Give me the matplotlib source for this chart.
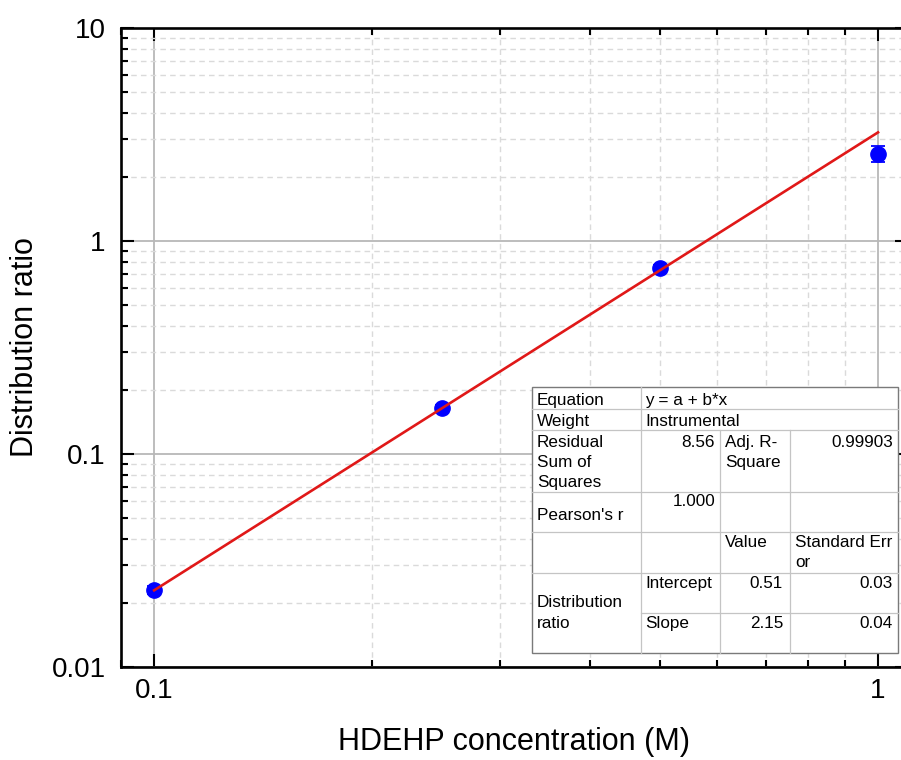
import matplotlib
matplotlib.use("Agg")
import matplotlib.pyplot as plt
import numpy as np
from matplotlib.patches import Rectangle
from matplotlib.lines import Line2D
from matplotlib.ticker import FixedLocator, FixedFormatter, LogLocator, NullFormatter

plt.rcParams['font.family'] = ['Liberation Sans', 'DejaVu Sans']

# Measured distribution ratios vs. HDEHP concentration
conc = [0.1, 0.25, 0.5, 1.0]
dist_ratio = [0.023, 0.164, 0.75, 2.56]
dist_err = [0.001, 0.006, 0.02, 0.22]

# Linear fit on log10 scale: log D = a + b * log [HDEHP]
fit_intercept = 0.51
fit_slope = 2.15

x_ticks = [0.1, 1]
x_tick_labels = ["0.1", "1"]
y_ticks = [0.01, 0.1, 1, 10]
y_tick_labels = ["0.01", "0.1", "1", "10"]

W, H = 901, 760
fig = plt.figure(figsize=(W / 100, H / 100), dpi=100)
ax = fig.add_axes([121 / W, 1 - 667 / H, (908 - 121) / W, (667 - 28) / H])
ax.set_xscale('log')
ax.set_yscale('log')
ax.set_xlim(0.09, 1.1)
ax.set_ylim(0.01, 10)

ax.grid(which='major', color='#b8b8b8', lw=1.3, ls='-', zorder=0)
ax.grid(which='minor', color='#dadada', lw=1.0, ls=(0, (4, 3)), zorder=0)
ax.set_axisbelow(True)

ax.xaxis.set_major_locator(FixedLocator(x_ticks))
ax.xaxis.set_major_formatter(FixedFormatter(x_tick_labels))
ax.xaxis.set_minor_locator(LogLocator(base=10, subs=np.arange(2, 10)))
ax.xaxis.set_minor_formatter(NullFormatter())
ax.yaxis.set_major_locator(FixedLocator(y_ticks))
ax.yaxis.set_major_formatter(FixedFormatter(y_tick_labels))
ax.yaxis.set_minor_locator(LogLocator(base=10, subs=np.arange(2, 10)))
ax.yaxis.set_minor_formatter(NullFormatter())

ax.tick_params(which='both', direction='in', top=True, right=True, width=1.5, color='black')
ax.tick_params(which='major', length=9.5, labelsize=20)
ax.tick_params(which='minor', length=5)
ax.tick_params(axis='x', which='major', pad=8)
ax.tick_params(axis='y', which='major', pad=11)
for s in ax.spines.values():
    s.set_linewidth(1.9)

ax.errorbar(conc, dist_ratio, yerr=dist_err, fmt='o', color='#0000ff', ms=11,
            ecolor='#0000ff', elinewidth=1.3, capsize=5, capthick=1.3, zorder=3)
xf = np.logspace(np.log10(conc[0]), np.log10(conc[-1]), 50)
ax.plot(xf, 10 ** (fit_intercept + fit_slope * np.log10(xf)), color='#e01818', lw=1.9, zorder=4)

ax.set_xlabel("HDEHP concentration (M)", fontsize=22, va='center')
ax.xaxis.set_label_coords(0.5, (667 - 742) / 639)
ax.set_ylabel("Distribution ratio", fontsize=22, va='center', rotation_mode='anchor')
ax.yaxis.set_label_coords((25 - 121) / 787, 0.5)

# Fit summary table
def fx(x):
    return x / W

def fy(y):
    return 1 - y / H

tl, tr, tt, tb = 532, 898, 387, 653
c1, c2, c3 = 641, 720, 790
r1, r2, r3, r4, r5, r6 = 409, 430, 492, 532, 573, 613

fig.add_artist(Rectangle((fx(tl), fy(tb)), fx(tr) - fx(tl), fy(tt) - fy(tb),
                         transform=fig.transFigure, facecolor='white',
                         edgecolor='#7a7a7a', lw=1.0, zorder=10))
inner = '#c4c4c4'
def hline(y, x0, x1):
    fig.add_artist(Line2D([fx(x0), fx(x1)], [fy(y), fy(y)], transform=fig.transFigure,
                          color=inner, lw=0.9, zorder=11))

def vline(x, y0, y1):
    fig.add_artist(Line2D([fx(x), fx(x)], [fy(y0), fy(y1)], transform=fig.transFigure,
                          color=inner, lw=0.9, zorder=11))

for r in (r1, r2, r3, r4, r5):
    hline(r, tl, tr)
hline(r6, c1, tr)
vline(c1, tt, tb)
vline(c2, r2, tb)
vline(c3, r2, tb)

fs = 12.3
def cell(x, y, s, ha='left'):
    fig.text(fx(x), fy(y), s, ha=ha, va='baseline', fontsize=fs, zorder=12)

cell(537, 405, "Equation")
cell(645, 405, "y = a + b*x")
cell(537, 426, "Weight")
cell(645, 426, "Instrumental")
cell(537, 447, "Residual")
cell(537, 467, "Sum of")
cell(537, 487, "Squares")
cell(715, 447, "8.56", ha='right')
cell(725, 447, "Adj. R-")
cell(725, 467, "Square")
cell(893, 447, "0.99903", ha='right')
cell(537, 520, "Pearson's r")
cell(715, 506, "1.000", ha='right')
cell(725, 547, "Value")
cell(795, 547, "Standard Err")
cell(795, 567, "or")
cell(645, 588, "Intercept")
cell(783, 588, "0.51", ha='right')
cell(893, 588, "0.03", ha='right')
cell(537, 607, "Distribution")
cell(537, 628, "ratio")
cell(645, 628, "Slope")
cell(783, 628, "2.15", ha='right')
cell(893, 628, "0.04", ha='right')

fig.savefig("out.png", dpi=100)
